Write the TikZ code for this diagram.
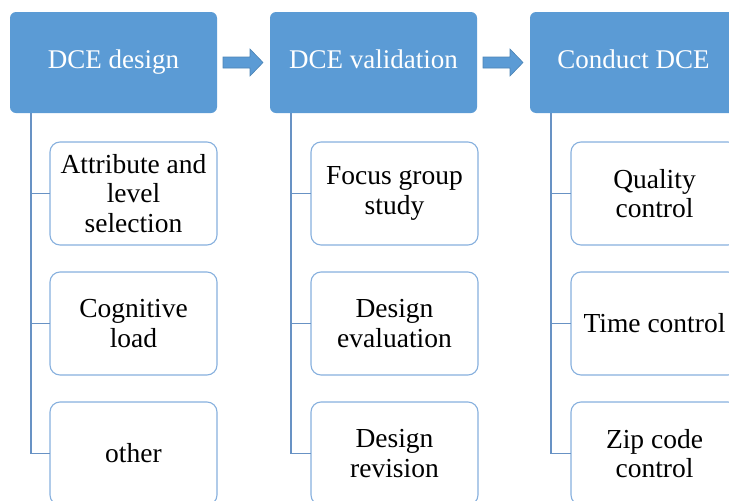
\documentclass[tikz,border=0pt]{standalone}
\usepackage{fontspec}
\setmainfont{Liberation Serif}
\usetikzlibrary{calc,positioning}
\definecolor{officeblue}{RGB}{91,155,213}
\definecolor{boxedge}{RGB}{135,176,222}
\definecolor{linkblue}{RGB}{104,146,196}

% block arrow between two header boxes
\newcommand{\blockarrow}[2]{%
  \filldraw[stepfill] ($(#1.east)+(6,5.5)$) -- ($(#2.west)+(-20,5.5)$)
    -- ($(#2.west)+(-20,13.5)$) -- ($(#2.west)+(-7,0)$)
    -- ($(#2.west)+(-20,-13.5)$) -- ($(#2.west)+(-20,-5.5)$)
    -- ($(#1.east)+(6,-5.5)$) -- cycle;}

\begin{document}
\begin{tikzpicture}[x=1pt,y=-1pt,
  header/.style={fill=officeblue, rounded corners=6pt, minimum width=207pt,
    minimum height=101pt, text=white, inner sep=0pt, outer sep=0pt,
    font=\fontsize{27}{32}\selectfont, text height=17pt, text depth=6pt},
  item/.style={draw=boxedge, line width=1.1pt, fill=white, rounded corners=10pt,
    minimum width=167pt, minimum height=103pt, align=center, inner sep=0pt,
    outer sep=0pt, font=\fontsize{27.5}{29.5}\selectfont},
  link/.style={draw=linkblue, line width=1.5pt},
  stepfill/.style={fill=officeblue, draw=officeblue!85!black, line width=0.6pt}]
  \useasboundingbox (0,0) rectangle (729,501);
  \clip (0,0) rectangle (729,501);

  % Headers.
  \node[header, anchor=north west] (h1) at (10,12) {DCE design};
  \node[header, right=53pt of h1] (h2) {DCE validation};
  \node[header, right=53pt of h2] (h3) {Conduct DCE};

  \blockarrow{h1}{h2}
  \blockarrow{h2}{h3}

  % First column.
  \node[item, anchor=north west] (c11) at (50,142) {Attribute and\\level\\selection};
  \node[item, below=27pt of c11] (c12) {Cognitive\\load};
  \node[item, below=27pt of c12] (c13) {other};

  % Second column.
  \node[item, anchor=north west] (c21) at (311,142) {Focus group\\study};
  \node[item, below=27pt of c21] (c22) {Design\\evaluation};
  \node[item, below=27pt of c22] (c23) {Design\\revision};

  % Third column.
  \node[item, anchor=north west] (c31) at (571,142) {Quality\\control};
  \node[item, below=27pt of c31] (c32) {Time control};
  \node[item, below=27pt of c32] (c33) {Zip code\\control};

  % Connectors.
  \foreach \col in {1,2,3}{
    \foreach \row in {1,2,3}{
      \draw[link] ([xshift=21pt]h\col.south west) |- (c\col\row.west);
    }
  }
\end{tikzpicture}
\end{document}
